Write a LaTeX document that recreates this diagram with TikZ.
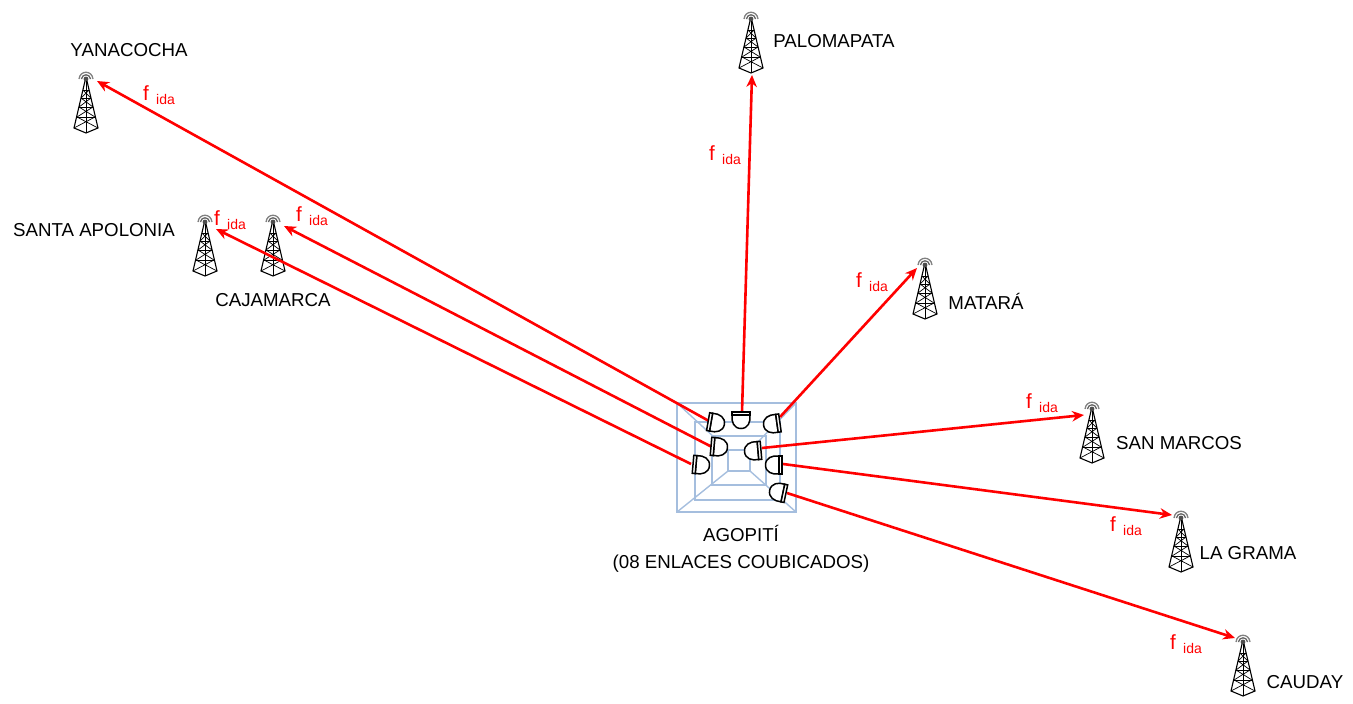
\documentclass[tikz,border=0pt]{standalone}
\usepackage{fontspec}
\setmainfont{Liberation Sans}
\usetikzlibrary{arrows.meta}
\definecolor{wallblue}{RGB}{165,190,222}
\newcommand{\fida}{\fontsize{20.5}{20}\selectfont f\,\fontsize{14}{14}\selectfont\raisebox{-3.5pt}{ ida}}
\tikzset{
  site/.style={font=\fontsize{18.7}{27}\selectfont,align=center,inner sep=0pt},
  freq/.style={text=red,inner sep=0pt},
  link/.style={draw=red,line width=2.6pt,-{Stealth[length=12pt,width=10.5pt]}},
  wall/.style={draw=wallblue,line width=1.4pt},
  tower/.pic={
    \draw[gray,line width=1.3pt] (-7,3) .. controls (-6,-6) and (6,-6) .. (7,3);
    \draw[gray!80!black,line width=1.3pt] (-4.6,3) .. controls (-3.6,-2.6) and (3.6,-2.6) .. (4.6,3);
    \fill[black!70] (0,3) circle (2.4);
    \draw[black,line width=1.1pt] (-1,5) -- (-12,52) -- (0,57) -- (12,52) -- (1,5);
    \draw[black,line width=0.8pt] (0,5) -- (0,57);
    \draw[black,line width=0.9pt] (-3.2,14) -- (3.2,14) (-5,22) -- (5,22) (-7,31) -- (7,31) (-9,41) -- (9,41);
    \draw[black,line width=0.7pt] (-3.2,14) -- (5,22) (3.2,14) -- (-5,22) (-5,22) -- (7,31) (5,22) -- (-7,31) (-7,31) -- (9,41) (7,31) -- (-9,41) (-9,41) -- (12,52) (9,41) -- (-12,52);
  },
  dish/.pic={
    \draw[black,fill=white,line width=1.5pt] (-5,-9) .. controls (2,-9.8) and (8.5,-7) .. (8.5,0) .. controls (8.5,7) and (2,9.8) .. (-5,9) -- cycle;
    \draw[black,fill=white,line width=1.5pt] (-8,-9) rectangle (-5,9);
  }
}
\begin{document}
\begin{tikzpicture}[x=1pt,y=-1pt]
\useasboundingbox (0,0) rectangle (1353,704);
% building
\draw[wall] (677,403) rectangle (796,512);
\draw[wall] (695,422) rectangle (780,500);
\draw[wall] (712,436) rectangle (766,485);
\draw[wall] (728,450) rectangle (750,471);
\draw[wall] (677,403) -- (728,450);
\draw[wall] (796,403) -- (750,450);
\draw[wall] (677,512) -- (728,471);
\draw[wall] (796,512) -- (750,471);
% towers
\pic at (86,76) {tower};
\pic at (205,219) {tower};
\pic at (273,219) {tower};
\pic at (751,16) {tower};
\pic at (925,262) {tower};
\pic at (1092,406) {tower};
\pic at (1181,515) {tower};
\pic at (1243,639) {tower};
% antennas
\coordinate (dishA) at (709,421);
\coordinate (dishB) at (712,447);
\coordinate (dishC) at (691,464);
\coordinate (dishD) at (742,412);
\coordinate (dishE) at (780,417);
\coordinate (dishF) at (762,448);
\coordinate (dishG) at (783,464);
\coordinate (dishH) at (787,493);
% arrow ends
\coordinate (yanacocha) at (97,81);
\coordinate (cajamarca) at (284,226);
\coordinate (apolonia) at (216,229);
\coordinate (palomapata) at (752,75);
\coordinate (matara) at (917,268);
\coordinate (marcos) at (1084,415);
\coordinate (grama) at (1172,515);
\coordinate (cauday) at (1235,638);
\draw[link] (dishA) -- (yanacocha);
\draw[link] (dishB) -- (cajamarca);
\draw[link] (dishC) -- (apolonia);
\draw[link] (dishD) -- (palomapata);
\draw[link] (dishE) -- (matara);
\draw[link] (dishF) -- (marcos);
\draw[link] (dishG) -- (grama);
\draw[link] (dishH) -- (cauday);
\pic[rotate=-10] at (716,423) {dish};
\pic[rotate=-5] at (719,447) {dish};
\pic[rotate=-5] at (701,465) {dish};
\pic[rotate=-90] at (741,420) {dish};
\pic[rotate=188] at (772,424) {dish};
\pic[rotate=185] at (753,451) {dish};
\pic[rotate=180] at (774,465) {dish};
\pic[rotate=168] at (778,492) {dish};
% labels
\node[site] (lblYanacocha) at (129,50) {YANACOCHA};
\node[site] (lblApolonia) at (94,230) {SANTA APOLONIA};
\node[site] (lblCajamarca) at (273,300) {CAJAMARCA};
\node[site] (lblPalomapata) at (834,41) {PALOMAPATA};
\node[site] (lblMatara) at (986,301) {MATARÁ};
\node[site] (lblMarcos) at (1179,443) {SAN MARCOS};
\node[site] (lblGrama) at (1248,553) {LA GRAMA};
\node[site] (lblCauday) at (1305,682) {CAUDAY};
\node[site] (lblAgopiti) at (741,549) {AGOPITÍ\\(08 ENLACES COUBICADOS)};
\node[freq] (fYanacocha) at (159,95) {\fida};
\node[freq] (fApolonia) at (230,220) {\fida};
\node[freq] (fCajamarca) at (312,216) {\fida};
\node[freq] (fPalomapata) at (725,155) {\fida};
\node[freq] (fMatara) at (872,282) {\fida};
\node[freq] (fMarcos) at (1042,403) {\fida};
\node[freq] (fGrama) at (1126,526) {\fida};
\node[freq] (fCauday) at (1186,644) {\fida};
\end{tikzpicture}
\end{document}
